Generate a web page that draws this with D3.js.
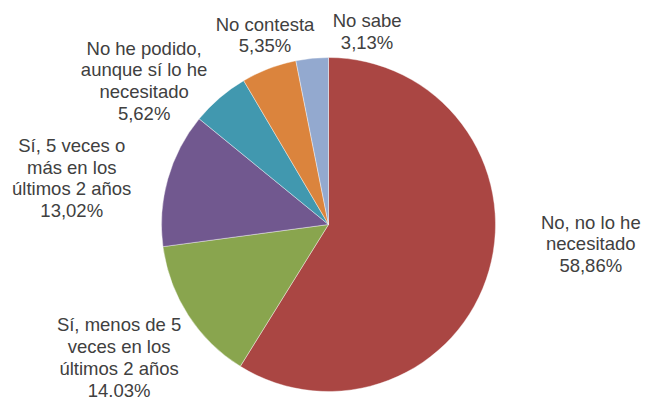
<!DOCTYPE html>
<html>
<head>
<meta charset="utf-8">
<script src="https://cdn.jsdelivr.net/npm/d3@7"></script>
<style>
  body { margin: 0; background: #fff; }
  svg { display: block; }
</style>
</head>
<body>
<div id="chart"></div>
<script>
// Data
const categories = [
  ["No, no lo he", "necesitado"],
  ["Sí, menos de 5", "veces en los", "últimos 2 años"],
  ["Sí, 5 veces o", "más en los", "últimos 2 años"],
  ["No he podido,", "aunque sí lo he", "necesitado"],
  ["No contesta"],
  ["No sabe"]
];
const values = [58.86, 14.03, 13.02, 5.62, 5.35, 3.13];
const valueLabels = ["58,86%", "14.03%", "13,02%", "5,62%", "5,35%", "3,13%"];
const colors = ["#AA4643", "#89A54E", "#71588F", "#4198AF", "#DB843D", "#93A9CF"];

// Label placement (angle in degrees clockwise from top, distance from centre)
const labelAngles = [94.2, 237.6, 280.3, 308, 341.5, 11.3];
const labelRadii = [263, 248, 261, 234, 200, 197];

const width = 646, height = 401;
const cx = 328.5, cy = 224.5, radius = 167;
const fontSize = 18.5, lineHeight = 21.7;

const svg = d3.select("#chart").append("svg")
  .attr("width", width)
  .attr("height", height);

const g = svg.append("g").attr("transform", `translate(${cx},${cy})`);

const pie = d3.pie().sort(null).value(d => d);
const arc = d3.arc().innerRadius(0).outerRadius(radius);

const slices = pie(values);

g.selectAll("path.slice")
  .data(slices)
  .join("path")
  .attr("class", "slice")
  .attr("d", arc)
  .attr("fill", (d, i) => colors[i])
  .attr("stroke", "#fff")
  .attr("stroke-width", 0.4);

// Labels
slices.forEach((d, i) => {
  const lines = categories[i].concat([valueLabels[i]]);
  const [lx, ly] = d3.pointRadial(labelAngles[i] * Math.PI / 180, labelRadii[i]);
  const firstBaseline = ly - (lines.length - 1) * lineHeight / 2 + fontSize * 0.358;
  const t = g.append("text")
    .attr("text-anchor", "middle")
    .style("font-family", "'Liberation Sans', Arial, sans-serif")
    .style("font-size", fontSize + "px")
    .attr("fill", "#404040");
  lines.forEach((line, j) => {
    t.append("tspan")
      .attr("x", lx)
      .attr("y", firstBaseline + j * lineHeight)
      .text(line);
  });
});
</script>
</body>
</html>
